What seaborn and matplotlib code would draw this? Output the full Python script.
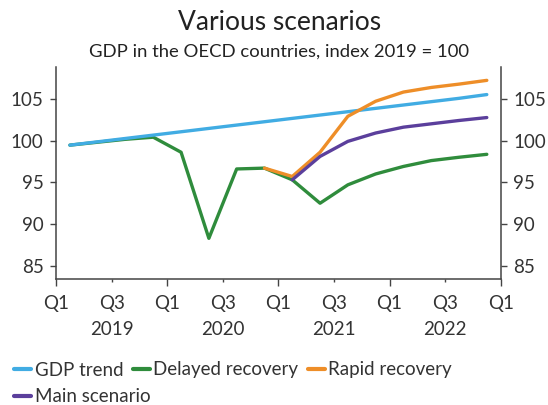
import matplotlib
matplotlib.use("Agg")
import matplotlib.pyplot as plt
import seaborn as sns
import pandas as pd
from matplotlib.ticker import FixedLocator, FixedFormatter

quarters = ["2019Q1", "2019Q2", "2019Q3", "2019Q4",
            "2020Q1", "2020Q2", "2020Q3", "2020Q4",
            "2021Q1", "2021Q2", "2021Q3", "2021Q4",
            "2022Q1", "2022Q2", "2022Q3", "2022Q4"]

gdp_trend = [99.45, 99.85, 100.25, 100.65, 101.05, 101.45, 101.85, 102.25,
             102.65, 103.05, 103.45, 103.85, 104.25, 104.65, 105.05, 105.5]
delayed = [99.45, 99.8, 100.15, 100.4, 98.6, 88.3, 96.6, 96.7,
           95.3, 92.5, 94.7, 96.0, 96.9, 97.6, 98.0, 98.35]
rapid_q = ["2020Q4", "2021Q1", "2021Q2", "2021Q3", "2021Q4",
           "2022Q1", "2022Q2", "2022Q3", "2022Q4"]
rapid = [96.7, 95.7, 98.6, 102.9, 104.7, 105.8, 106.35, 106.75, 107.2]
main_q = ["2021Q1", "2021Q2", "2021Q3", "2021Q4",
          "2022Q1", "2022Q2", "2022Q3", "2022Q4"]
main = [95.3, 98.1, 99.9, 100.9, 101.6, 102.0, 102.4, 102.75]

years = ["2019", "2020", "2021", "2022"]

series_names = ["GDP trend", "Delayed recovery", "Rapid recovery", "Main scenario"]
colors = {"GDP trend": "#41ACE3", "Delayed recovery": "#2F8C3C",
          "Rapid recovery": "#EE8E28", "Main scenario": "#5B3F9C"}

pos = {q: i + 0.5 for i, q in enumerate(quarters)}
rows = []
for name, qs, vals in [("GDP trend", quarters, gdp_trend),
                       ("Delayed recovery", quarters, delayed),
                       ("Rapid recovery", rapid_q, rapid),
                       ("Main scenario", main_q, main)]:
    for q, v in zip(qs, vals):
        rows.append({"x": pos[q], "value": v, "series": name})
df = pd.DataFrame(rows)

sns.set_theme(style="white")
plt.rcParams["font.family"] = ["Lato", "DejaVu Sans"]
text_color = "#333333"
spine_color = "#444444"
fs = 13.5

fig = plt.figure(figsize=(5.48, 4.05), dpi=100)
ax = fig.add_axes([0.1022, 0.3104, 0.9137 - 0.1022, 0.8346 - 0.3104])

draw_order = ["Delayed recovery", "GDP trend", "Rapid recovery", "Main scenario"]
sns.lineplot(data=df, x="x", y="value", hue="series", hue_order=draw_order,
             palette=colors, linewidth=2.4, ax=ax, legend=False, sort=True)

ax.set_xlim(0, 16)
ax.set_ylim(83.4, 108.8)
ax.set_yticks([85, 90, 95, 100, 105])
ax.set_xlabel("")
ax.set_ylabel("")

ax.xaxis.set_major_locator(FixedLocator([0, 4, 8, 12, 16]))
ax.xaxis.set_major_formatter(FixedFormatter(["Q1"] * 5))
ax.xaxis.set_minor_locator(FixedLocator([2, 6, 10, 14]))
ax.xaxis.set_minor_formatter(FixedFormatter(["Q3"] * 4))
ax.tick_params(axis="x", which="major", length=5, width=1, pad=6,
               color=spine_color, labelcolor=text_color, labelsize=fs, bottom=True)
ax.tick_params(axis="x", which="minor", length=2.5, width=1, pad=8.5,
               color=spine_color, labelcolor=text_color, labelsize=fs, bottom=True)
ax.tick_params(axis="y", which="major", length=4, width=1, pad=5,
               color=spine_color, labelcolor=text_color, labelsize=fs,
               left=True, right=True, labelleft=True, labelright=True)

for s in ["left", "right", "bottom"]:
    ax.spines[s].set_visible(True)
    ax.spines[s].set_color(spine_color)
    ax.spines[s].set_linewidth(1.1)
ax.spines["top"].set_visible(False)
ax.grid(False)

for k, y in enumerate(years):
    ax.annotate(y, xy=(2 + 4 * k, 0), xycoords=("data", "axes fraction"),
                xytext=(0, -36), textcoords="offset points",
                ha="center", va="center", fontsize=fs, color=text_color)

fig.text(0.51, 1 - 22 / 405, "Various scenarios", ha="center", va="center",
         fontsize=19, color="#222222")
fig.text(0.51, 1 - 52 / 405, "GDP in the OECD countries, index 2019 = 100",
         ha="center", va="center", fontsize=13.3, color="#222222")

handles = {n: plt.Line2D([0], [0], color=colors[n], linewidth=3.0) for n in series_names}
leg_kw = dict(frameon=False, fontsize=fs, handlelength=0.9, handletextpad=0.2,
              columnspacing=0.5, borderaxespad=0, borderpad=0,
              labelcolor=text_color)
row1 = series_names[:3]
leg1 = fig.legend([handles[n] for n in row1], row1, loc="center left",
                  bbox_to_anchor=(14 / 548, 1 - 370 / 405), ncol=3, **leg_kw)
row2 = series_names[3:]
leg2 = fig.legend([handles[n] for n in row2], row2, loc="center left",
                  bbox_to_anchor=(14 / 548, 1 - 396.7 / 405), ncol=1, **leg_kw)

fig.savefig("out.png", dpi=100, facecolor="white")
